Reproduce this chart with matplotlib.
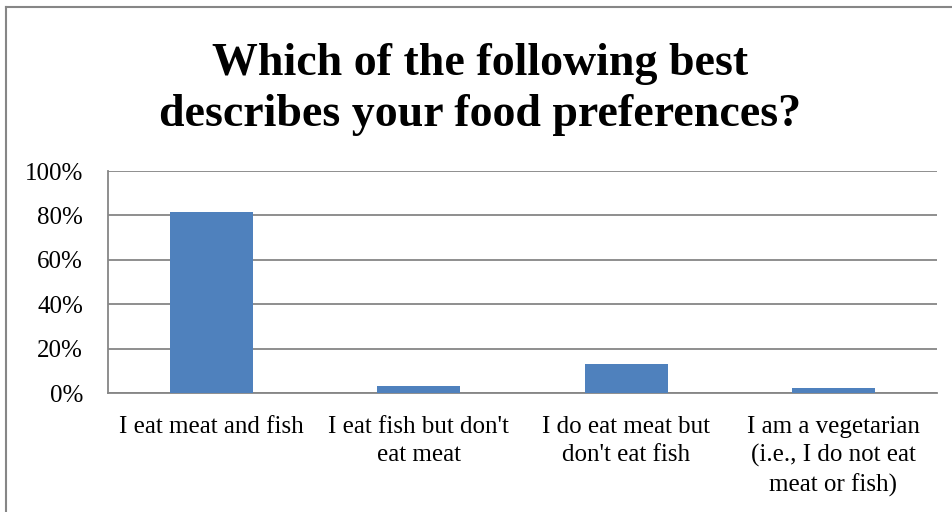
import matplotlib.pyplot as plt
from matplotlib.lines import Line2D
import numpy as np

plt.rcParams['font.family'] = ['Liberation Serif', 'DejaVu Serif']

categories = [
    'I eat meat and fish',
    "I eat fish but don't\neat meat",
    "I do eat meat but\ndon't eat fish",
    'I am a vegetarian\n(i.e., I do not eat\nmeat or fish)',
]
shares = [81.6, 3.1, 13.1, 2.2]
y_ticks = [0, 20, 40, 60, 80, 100]

W, H = 953, 512
fig = plt.figure(figsize=(W / 100, H / 100), dpi=100)
ax = fig.add_axes([108 / W, 1 - 393 / H, 829 / W, 222 / H])

x = np.arange(len(categories))
ax.bar(x, shares, width=0.4, color='#4F81BD', zorder=3)

ax.set_xlim(-0.5, len(categories) - 0.5)
ax.set_ylim(0, 100)
ax.set_yticks(y_ticks)
ax.set_yticklabels([f'{v}%' for v in y_ticks], fontsize=18)
ax.set_xticks(x)
ax.set_xticklabels(categories, fontsize=18, linespacing=1.35, va='top')
ax.tick_params(axis='y', length=0, pad=18)
ax.tick_params(axis='x', length=0, pad=16.5)
ax.grid(axis='y', color='#868686', linewidth=1.3, zorder=0)
for side in ['top', 'right']:
    ax.spines[side].set_visible(False)
for side in ['left', 'bottom']:
    ax.spines[side].set_color('#868686')
    ax.spines[side].set_linewidth(1.3)

fig.text(480 / W, 1 - 126 / H, 'Which of the following best\ndescribes your food preferences?',
         ha='center', va='baseline', fontsize=33, fontweight='bold', linespacing=1.28)

# chart frame (left and top edges fall inside the image)
fig.add_artist(Line2D([6 / W, 6 / W], [0, 1 - 6.5 / H], transform=fig.transFigure,
                      color='#868686', linewidth=1.5))
fig.add_artist(Line2D([6 / W, 1], [1 - 6.5 / H, 1 - 6.5 / H], transform=fig.transFigure,
                      color='#868686', linewidth=1.5))

plt.savefig('out.png', dpi=100)
